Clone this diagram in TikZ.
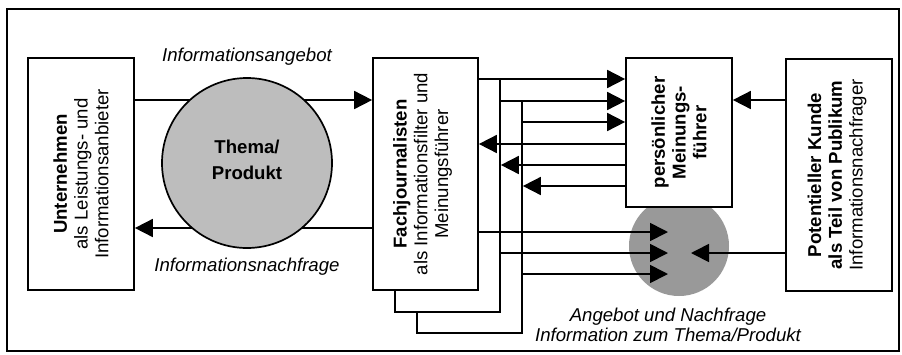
\documentclass[tikz,border=0pt]{standalone}
\usepackage{fontspec}
\setmainfont{Liberation Sans}
\usetikzlibrary{arrows.meta}
\definecolor{circA}{gray}{0.74}
\definecolor{circB}{gray}{0.6}
\newcommand{\fsz}{\fontsize{18.6}{20.8}\selectfont}
\tikzset{
  blk/.style 2 args={draw, fill=white, rectangle, inner sep=0pt, minimum width=#1, minimum height=#2},
  arr/.style={-{Triangle[length=18pt,width=18pt]}},
  txt/.style={font=\fsz, align=center, inner sep=0pt},
  vtxt/.style={txt, rotate=90},
}
\begin{document}
\begin{tikzpicture}[x=1pt,y=-1pt,line width=1.7pt]
\useasboundingbox (0,0) rectangle (902,354);
\draw[line width=2.2pt] (7,9) rectangle (899,351);
% level coordinates
\coordinate (yA) at (0,79);
\coordinate (yB) at (0,101);
\coordinate (yC) at (0,122);
\coordinate (yD) at (0,144);
\coordinate (yE) at (0,165);
\coordinate (yF) at (0,186);
\coordinate (yG) at (0,232);
\coordinate (yH) at (0,253);
\coordinate (yI) at (0,274);
\coordinate (yTop) at (0,100);
\coordinate (yBot) at (0,228);
\coordinate (tipIn) at (668,0);
\coordinate (tipPK) at (691,0);
% second circle (behind)
\node[circle, fill=circB, minimum size=100pt, inner sep=0pt] (c2) at (679,246) {};
% boxes
\node[blk={106pt}{232pt}] (un) at (81,174) {};
\node[blk={105pt}{232pt}] (fj3) at (469.5,217) {};
\node[blk={105pt}{233pt}] (fj2) at (447.5,195.5) {};
\node[blk={105pt}{232pt}] (fj1) at (425.5,174) {};
\node[blk={106pt}{149pt}] (pm) at (679,132.5) {};
\node[blk={106pt}{232pt}] (pk) at (839,175) {};
% left connectors
\draw[arr] (un.east |- yTop) -- (fj1.west |- yTop);
\draw[arr] (fj1.west |- yBot) -- (un.east |- yBot);
% first circle over the connectors
\node[circle, draw, fill=circA, minimum size=170pt, inner sep=0pt] (c1) at (247,163) {};
\node[txt, font=\bfseries\fontsize{18.6}{26}\selectfont] (c1T) at (247,160) {Thema/\\Produkt};
% to personal opinion leader
\draw[arr] (fj1.east |- yA) -- (pm.west |- yA);
\draw[arr] (fj2.east |- yB) -- (pm.west |- yB);
\draw[arr] (fj3.east |- yC) -- (pm.west |- yC);
\draw[arr] (pm.west |- yD) -- (fj1.east |- yD);
\draw[arr] (pm.west |- yE) -- (fj2.east |- yE);
\draw[arr] (pm.west |- yF) -- (fj3.east |- yF);
% to second circle
\draw[arr] (fj1.east |- yG) -- (tipIn |- yG);
\draw[arr] (fj2.east |- yH) -- (tipIn |- yH);
\draw[arr] (fj3.east |- yI) -- (tipIn |- yI);
\draw[arr] (pk.west |- yH) -- (tipPK |- yH);
\draw[arr] (pk.west |- yTop) -- (pm.east |- yTop);
% texts
\node[vtxt] (unT) at (un.center) {\textbf{Unternehmen}\\als Leistungs- und\\Informationsanbieter};
\node[vtxt] (fjT) at ([xshift=-3pt]fj1.center) {\textbf{Fachjournalisten}\\als Informationsfilter und\\Meinungsführer};
\node[vtxt, font=\bfseries\fsz] (pmT) at (pm.center) {persönlicher\\Meinungs-\\führer};
\node[vtxt] (pkT) at ([xshift=-2pt]pk.center) {\textbf{Potentieller Kunde}\\\textbf{als Teil von Publikum}\\Informationsnachfrager};
\node[txt, font=\itshape\fsz] (lA) at (247,57) {Informationsangebot};
\node[txt, font=\itshape\fsz] (lN) at (247,267) {Informationsnachfrage};
\node[txt, font=\itshape\fontsize{18.6}{20}\selectfont] (lC) at (668,325) {Angebot und Nachfrage\\Information zum Thema/Produkt};
\end{tikzpicture}
\end{document}
